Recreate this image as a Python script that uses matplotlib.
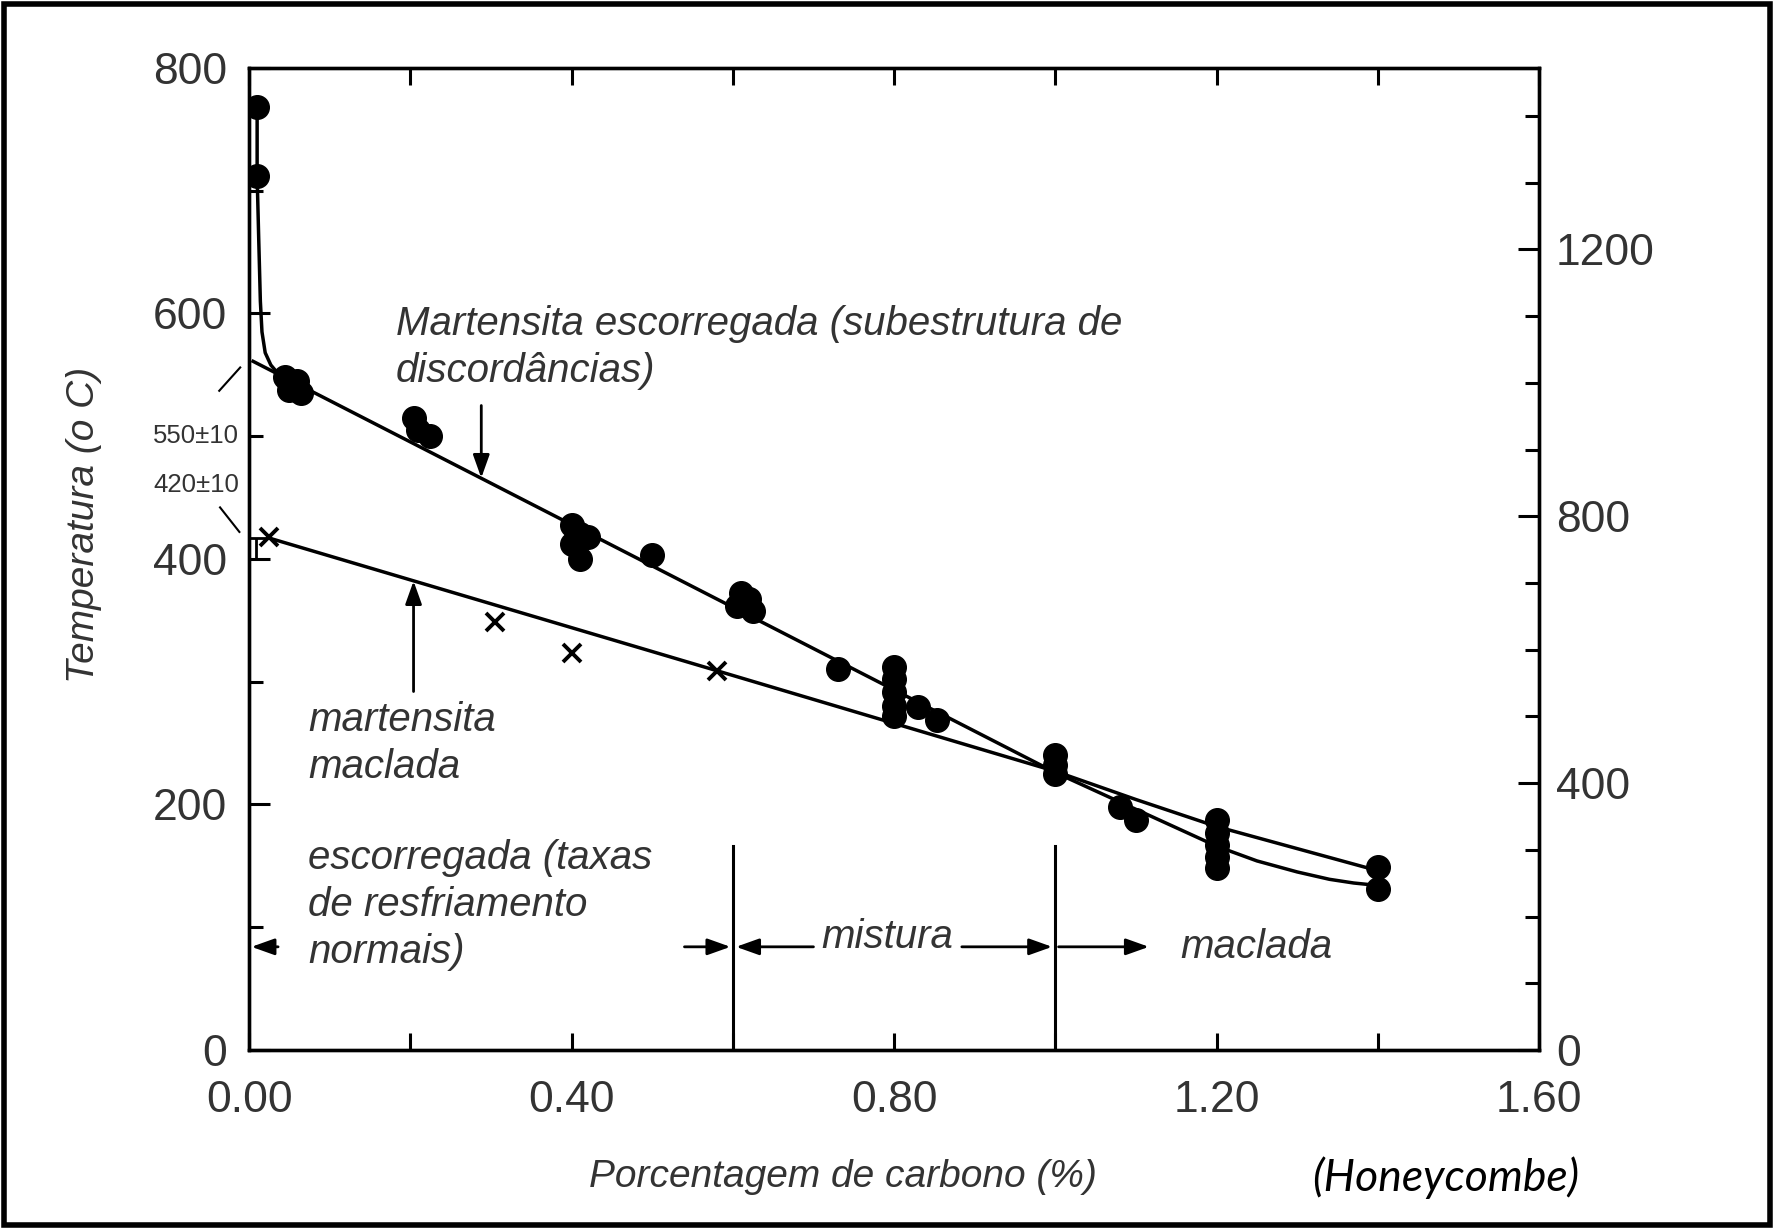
import numpy as np
import matplotlib.pyplot as plt
from matplotlib.patches import Rectangle
from matplotlib.ticker import MultipleLocator

plt.rcParams['font.family'] = ['Liberation Sans', 'DejaVu Sans']

# %% values (carbon %, temperature in C)
dots_x = [0.010, 0.010, 0.045, 0.060, 0.050, 0.065,
          0.205, 0.210, 0.225,
          0.400, 0.410, 0.400, 0.410, 0.420,
          0.500,
          0.610, 0.605, 0.625, 0.620,
          0.730,
          0.800, 0.800, 0.800, 0.800, 0.800,
          0.830, 0.853,
          1.000, 1.000, 1.000,
          1.080, 1.100,
          1.200, 1.200, 1.200, 1.200, 1.200,
          1.400, 1.400]
dots_y = [768, 712, 548, 545, 538, 535,
          515, 505, 500,
          428, 420, 412, 400, 418,
          403,
          372, 362, 358, 367,
          310,
          312, 302, 292, 280, 272,
          279, 269,
          240, 232, 225,
          198, 187,
          187, 177, 167, 157, 148,
          149, 131]

cross_x = [0.025, 0.305, 0.400, 0.580]
cross_y = [418, 349, 323, 309]

# steep start of the slipped-martensite curve
steep_x = [0.010, 0.010, 0.012, 0.014, 0.016, 0.020, 0.027, 0.036, 0.046]
steep_y = [768, 712, 660, 610, 585, 568, 558, 551, 546]

slip_x = [0.005, 1.00, 1.10, 1.20, 1.25, 1.30, 1.34, 1.37, 1.40]
slip_y = [561, 226, 196, 166, 154, 145, 139, 136, 134]

twin_x = [0.025, 0.58, 1.00, 1.10, 1.20, 1.30, 1.40]
twin_y = [417, 309, 227, 204, 182, 164, 146]

x_ticks = [0.0, 0.4, 0.8, 1.2, 1.6]
x_ticklabels = ['0.00', '0.40', '0.80', '1.20', '1.60']
y_ticks = [0, 200, 400, 600, 800]
f_ticks = [0, 400, 800, 1200]

# region boundaries (vertical lines) and label level
bounds = [0.6, 1.0]
bound_top = 166
arrow_level = 84

txt = '#333333'

fig = plt.figure(figsize=(17.74, 12.29), dpi=100)
ax = fig.add_axes([0.1404, 0.1457, 0.7272, 0.799])

ax.plot(steep_x, steep_y, 'k-', lw=2.5)
ax.plot(slip_x, slip_y, 'k-', lw=2.5)
ax.plot(twin_x, twin_y, 'k-', lw=2.5)
ax.plot(dots_x, dots_y, 'o', color='k', ms=17, ls='none')
ax.plot(cross_x, cross_y, 'x', color='k', ms=13, mew=2.8, ls='none')
ax.errorbar([0.008], [408.5], yerr=[[8.5], [8.5]], fmt='none', ecolor='k',
            elinewidth=2, capsize=8, capthick=2)

for b in bounds:
    ax.plot([b, b], [0, bound_top], 'k-', lw=2.2)

ax.set_xlim(0, 1.6)
ax.set_ylim(0, 800)
ax.set_xticks(x_ticks)
ax.set_xticklabels(x_ticklabels)
ax.set_yticks(y_ticks)
ax.xaxis.set_minor_locator(MultipleLocator(0.2))
ax.yaxis.set_minor_locator(MultipleLocator(100))
ax.tick_params(which='both', direction='in', top=True, right=False,
               colors='k', labelcolor=txt, width=2.2)
ax.tick_params(axis='y', which='major', length=15, pad=16, labelsize=32)
ax.tick_params(axis='y', which='minor', length=10)
ax.tick_params(axis='x', which='major', length=12, pad=22, labelsize=32)
ax.tick_params(axis='x', which='minor', length=12)
for s in ax.spines.values():
    s.set_linewidth(2.4)

# right axis, Fahrenheit
ax2 = ax.twinx()
ax2.set_ylim(0, 800 * 1.8 + 32)
ax2.set_yticks(f_ticks)
ax2.yaxis.set_minor_locator(MultipleLocator(100))
ax2.tick_params(which='both', direction='in', width=2.2, labelcolor=txt)
ax2.tick_params(which='major', length=15, pad=12, labelsize=32)
ax2.tick_params(which='minor', length=10)
for s in ax2.spines.values():
    s.set_linewidth(2.4)

ax.set_ylabel('Temperatura (o C)', fontsize=28, style='italic', color=txt,
              labelpad=0)
ax.yaxis.set_label_coords(-0.114, 0.535)

# annotations
ann = dict(fontsize=29, style='italic', color=txt)
ax.text(0.182, 572, 'Martensita escorregada (subestrutura de\ndiscordâncias)',
        va='center', ha='left', linespacing=1.3, **ann)
ax.text(0.073, 250, 'martensita\nmaclada', va='center', ha='left',
        linespacing=1.3, **ann)
ax.text(0.073, 118, 'escorregada (taxas\nde resfriamento\nnormais)',
        va='center', ha='left', linespacing=1.3, **ann)
ax.text(0.710, 92, 'mistura', va='center', ha='left', **ann)
ax.text(1.155, 84, 'maclada', va='center', ha='left', **ann)

arr = dict(arrowstyle='-|>,head_width=0.25,head_length=0.7', color='k', lw=2,
           mutation_scale=20, shrinkA=0, shrinkB=0)
ax.annotate('', xy=(0.288, 466), xytext=(0.288, 525), arrowprops=arr)
ax.annotate('', xy=(0.204, 382), xytext=(0.204, 292), arrowprops=arr)
ax.annotate('', xy=(0.003, arrow_level), xytext=(0.036, arrow_level), arrowprops=arr)
ax.annotate('', xy=(0.597, arrow_level), xytext=(0.540, arrow_level), arrowprops=arr)
ax.annotate('', xy=(0.604, arrow_level), xytext=(0.700, arrow_level), arrowprops=arr)
ax.annotate('', xy=(0.996, arrow_level), xytext=(0.884, arrow_level), arrowprops=arr)
ax.annotate('', xy=(1.116, arrow_level), xytext=(1.004, arrow_level), arrowprops=arr)

# extrapolated values on the left axis
ax.text(-0.012, 500, '550±10', ha='right', va='center', fontsize=18.5,
        color=txt, clip_on=False)
ax.text(-0.012, 460, '420±10', ha='right', va='center', fontsize=18.5,
        color=txt, clip_on=False)
ax.plot([-0.037, -0.011], [537, 556], 'k-', lw=1.5, clip_on=False)
ax.plot([-0.036, -0.012], [442, 422], 'k-', lw=1.5, clip_on=False)

fig.text(0.475, 0.042, 'Porcentagem de carbono (%)', ha='center', va='center',
         fontsize=28, style='italic', color=txt)
fig.text(0.815, 0.042, '(Honeycombe)', ha='center', va='center',
         fontsize=32, style='italic', family=['Lato', 'DejaVu Sans'], color='k')

fig.patches.append(Rectangle((0.002, 0.003), 0.996, 0.994, transform=fig.transFigure,
                             fill=False, ec='k', lw=4))

fig.savefig('out.png', dpi=100, facecolor='white')
